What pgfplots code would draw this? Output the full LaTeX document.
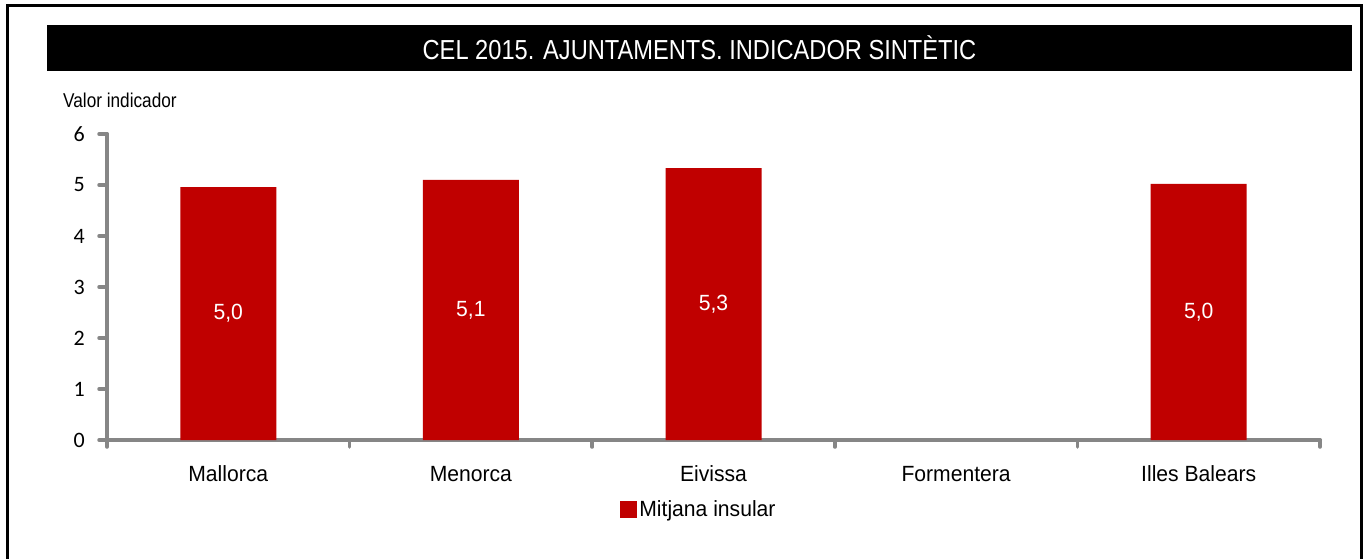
\documentclass[border=0pt]{standalone}
\usepackage{pgfplots}
\pgfplotsset{compat=1.18}
\usepackage{fontspec}
\setmainfont{Liberation Sans}[FakeStretch=0.96]
\newfontfamily\narrow{Liberation Sans}[FakeStretch=0.86]
\newfontfamily\carlito{Carlito}
\definecolor{barred}{RGB}{192,0,0}
\definecolor{axisgray}{RGB}{134,134,134}
\begin{document}
\begin{tikzpicture}
\useasboundingbox (0pt,0pt) rectangle (1367pt,558pt);
\fill[white] (0pt,0pt) rectangle (1367pt,558pt);
\draw[line width=3pt] (7pt,-10pt) -- (7pt,552pt) -- (1361pt,552pt) -- (1361pt,-10pt);
\fill[black] (47pt,487pt) rectangle (1352pt,533pt);
\node[text=white, font=\narrow\fontsize{27.5}{30}\selectfont, anchor=base, inner sep=0pt] at (699.5pt,498pt) {CEL 2015. AJUNTAMENTS. INDICADOR SINTÈTIC};
\begin{axis}[
  at={(107pt,118pt)}, anchor=south west,
  scale only axis, width=1213pt, height=306pt,
  xmin=-0.5, xmax=4.5, ymin=0, ymax=6,
  separate axis lines,
  axis x line*=bottom, axis y line*=left,
  x axis line style={-, draw=axisgray, line width=4pt, line cap=round},
  y axis line style={-, draw=axisgray, line width=4pt, line cap=round},
  tick align=outside,
  major tick length=8pt, minor tick length=7pt,
  major tick style={draw=axisgray, line width=3.5pt, line cap=round},
  minor tick style={draw=axisgray, line width=3.5pt, line cap=round},
  ytick={0,1,2,3,4,5,6},
  xtick={0,1,2,3,4},
  xticklabels={Mallorca,Menorca,Eivissa,Formentera,Illes Balears},
  major x tick style={draw=none},
  minor xtick={-0.5,0.5,1.5,2.5,3.5,4.5},
  /pgf/number format/assume math mode=true,
  xticklabel style={font=\fontsize{22}{24}\selectfont, inner sep=0pt, anchor=base, yshift=-33pt},
  yticklabel style={font=\carlito\fontsize{22}{24}\selectfont, inner sep=0pt, anchor=east, xshift=-14pt},
  ylabel={Valor indicador},
  ylabel style={rotate=-90, anchor=west, at={(rel axis cs:0,1)}, inner sep=0pt, xshift=-44pt, yshift=34pt, font=\narrow\fontsize{20}{22}\selectfont},
  legend style={at={(0.488,-0.2255)}, anchor=center, draw=none, fill=none, inner sep=0pt, font=\fontsize{22}{24}\selectfont},
  legend image code/.code={\fill[barred] (0pt,-8.5pt) rectangle (17pt,8.5pt);},
]
\addplot[ybar, bar width=96pt, fill=barred, draw=none,
  visualization depends on=y \as \rawy,
  nodes near coords={\pgfmathprintnumber[fixed,fixed zerofill,precision=1,use comma]{\pgfplotspointmeta}},
  every node near coord/.append style={anchor=center, text=white, font=\fontsize{22}{24}\selectfont, shift={(axis direction cs:0,-\rawy/2)}},
] coordinates {(0,4.96) (1,5.10) (2,5.33) (4,5.02)};
\addlegendentry{Mitjana insular}
\end{axis}
\end{tikzpicture}
\end{document}
